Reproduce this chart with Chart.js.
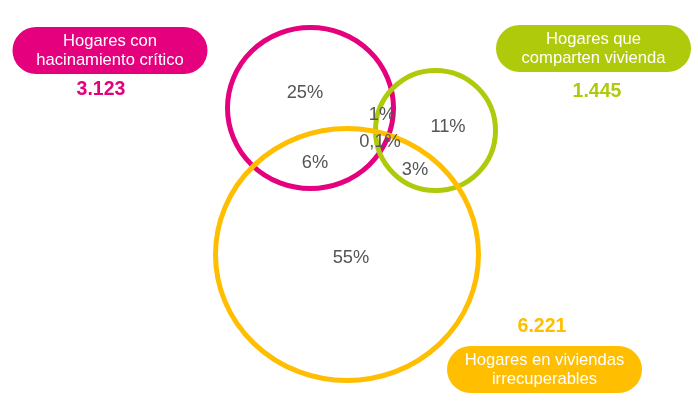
<!DOCTYPE html>
<html>
<head>
<meta charset="utf-8">
<script src="https://cdn.jsdelivr.net/npm/chart.js@4/dist/chart.umd.min.js"></script>
<style>
html, body { margin: 0; padding: 0; background: #fff; }
#wrap { width: 698px; height: 404px; position: relative; }
</style>
</head>
<body>
<div id="wrap"><canvas id="venn-chart"></canvas></div>
<script>
// Grupos del diagrama
var groups = [['Hogares con', 'hacinamiento crítico'], ['Hogares que', 'comparten vivienda'], ['Hogares en viviendas', 'irrecuperables']];
var groupTotals = ['3.123', '1.445', '6.221'];
var groupColors = ['#e5007e', '#afca0b', '#ffbe00'];

// Porcentaje de cada zona del diagrama
var zoneLabels = ['25%', '1%', '11%', '6%', '0,1%', '3%', '55%'];

// Ubicacion en unidades de los ejes
var circleX = [310.5, 435.5, 347];
var circleY = [108, 130.5, 254.5];
var circleRX = [83, 60, 131.5];
var circleRY = [80.5, 60, 126];
var zoneX = [305, 382, 448, 315, 380, 415, 351];
var zoneY = [93, 115, 127, 163, 142, 170, 258];
var pillX = [110, 593.5, 544.5];
var pillY = [50.5, 48.5, 369.5];
var totalX = [101, 597, 542];
var totalY = [90, 92, 327];

var FONT = '"Liberation Sans", Arial, Helvetica, sans-serif';

function pillPath(ctx, x, y, w, h) {
    var r = h / 2;
    ctx.beginPath();
    ctx.moveTo(x + r, y);
    ctx.lineTo(x + w - r, y);
    ctx.arc(x + w - r, y + r, r, -Math.PI / 2, Math.PI / 2);
    ctx.lineTo(x + r, y + h);
    ctx.arc(x + r, y + r, r, Math.PI / 2, Math.PI * 1.5);
    ctx.closePath();
}

/**
 * Dibuja los circulos, etiquetas y totales
 */
var vennPlugin = {
    id: 'venn',
    beforeDatasetsDraw: function(chart) {
        var ctx = chart.ctx,
            xs = chart.scales.x,
            ys = chart.scales.y;
        ctx.save();

        // circulos
        for (var i = 0; i < circleX.length; i++) {
            var cx = xs.getPixelForValue(circleX[i]),
                cy = ys.getPixelForValue(circleY[i]),
                rx = Math.abs(xs.getPixelForValue(circleX[i] + circleRX[i]) - cx),
                ry = Math.abs(ys.getPixelForValue(circleY[i] + circleRY[i]) - cy);
            ctx.beginPath();
            ctx.ellipse(cx, cy, rx, ry, 0, 0, Math.PI * 2);
            ctx.lineWidth = 5;
            ctx.strokeStyle = groupColors[i];
            ctx.stroke();
        }

        // rotulos de grupo
        for (var j = 0; j < groups.length; j++) {
            var px = xs.getPixelForValue(pillX[j]),
                py = ys.getPixelForValue(pillY[j]),
                w = Math.abs(xs.getPixelForValue(pillX[j] + 195) - px),
                h = Math.abs(ys.getPixelForValue(pillY[j] + 47) - py);
            pillPath(ctx, px - w / 2, py - h / 2, w, h);
            ctx.fillStyle = groupColors[j];
            ctx.fill();

            ctx.fillStyle = '#fff';
            ctx.font = '16.6px ' + FONT;
            ctx.textAlign = 'center';
            ctx.textBaseline = 'middle';
            ctx.fillText(groups[j][0], px, py - 9.5);
            ctx.fillText(groups[j][1], px, py + 9.5);

            ctx.fillStyle = groupColors[j];
            ctx.font = 'bold 19.5px ' + FONT;
            ctx.fillText(groupTotals[j], xs.getPixelForValue(totalX[j]), ys.getPixelForValue(totalY[j]));
        }
        ctx.restore();
    },
    afterDatasetsDraw: function(chart) {
        var ctx = chart.ctx,
            meta = chart.getDatasetMeta(0);
        ctx.save();
        ctx.fillStyle = '#555555';
        ctx.font = '18.3px ' + FONT;
        ctx.textAlign = 'center';
        ctx.textBaseline = 'middle';
        meta.data.forEach(function(point, index) {
            ctx.fillText(zoneLabels[index], point.x, point.y);
        });
        ctx.restore();
    }
};

var zonePoints = zoneX.map(function(x, i) {
    return {x: x, y: zoneY[i]};
});

new Chart(document.getElementById('venn-chart'), {
    type: 'scatter',
    data: {
        datasets: [{
            label: 'Zonas',
            data: zonePoints,
            pointRadius: 0,
            pointHoverRadius: 0
        }]
    },
    options: {
        responsive: true,
        maintainAspectRatio: false,
        animation: false,
        layout: { padding: 0 },
        events: [],
        scales: {
            x: { type: 'linear', min: 0, max: 698, display: false },
            y: { type: 'linear', min: 0, max: 404, reverse: true, display: false }
        },
        plugins: {
            legend: { display: false },
            tooltip: { enabled: false }
        }
    },
    plugins: [vennPlugin]
});
</script>
</body>
</html>
